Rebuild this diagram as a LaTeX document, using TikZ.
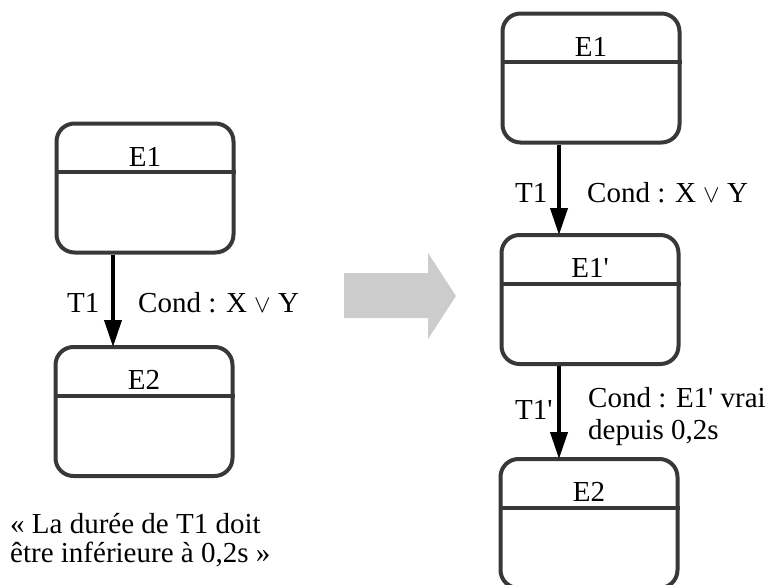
\documentclass[tikz,border=0pt]{standalone}
\usepackage{fontspec}
\setmainfont{Liberation Serif}
\usetikzlibrary{arrows.meta}
\definecolor{boxline}{RGB}{56,56,56}
\definecolor{bigarrow}{RGB}{204,204,204}
\tikzset{
  statebox/.style={draw=boxline, line width=4pt, rounded corners=18pt,
    minimum width=177pt, minimum height=129pt, inner sep=0pt, fill=white},
  divider/.style={draw=boxline, line width=4pt},
  title/.style={anchor=base, inner sep=0pt, font=\fontsize{29}{32}\selectfont},
  lbl/.style={anchor=base west, inner sep=0pt, font=\fontsize{29}{32}\selectfont, align=left},
  trans/.style={line width=4pt, -{Triangle[length=27pt,width=17pt]}, shorten >=-2pt}
}
\newcommand{\prm}{\textquotesingle}
\newcommand{\orsym}{{\fontsize{36}{36}\selectfont$\vee$}}
\begin{document}
\begin{tikzpicture}[x=1pt,y=-1pt]
\useasboundingbox (0,0) rectangle (766,584);
% left column
\node[statebox] (L1) at (145,188) {};
\node[statebox] (L2) at (144,411.5) {};
% right column
\node[statebox] (R1) at (591,78) {};
\node[statebox] (R2) at (590,299.5) {};
\node[statebox] (R3) at (589,523.5) {};
% dividers and titles
\foreach \n/\t in {L1/E1,L2/E2,R1/E1,R2/E1\prm,R3/E2}{
  \draw[divider] ([yshift=16pt]\n.west) -- ([yshift=16pt]\n.east);
  \node[title] at ([yshift=22pt]\n.center) {\t};
}
% transitions
\draw[trans] ([xshift=-32pt]L1.south) -- ([xshift=-31pt]L2.north);
\draw[trans] ([xshift=-32pt]R1.south) -- ([xshift=-31pt]R2.north);
\draw[trans] ([xshift=-31pt]R2.south) -- ([xshift=-30pt]R3.north);
% labels
\node[lbl] (t1) at (67,312) {T1};
\node[lbl] (c1) at (138,312) {Cond : X \orsym{} Y};
\node[lbl] (t2) at (515,202) {T1};
\node[lbl] (c2) at (587,202) {Cond : X \orsym{} Y};
\node[lbl] (t3) at (515,419) {T1\prm};
\node[lbl] (c3) at (588,439) {Cond : E1\prm{} vrai\\depuis 0,2s};
\node[lbl, font=\fontsize{29}{29}\selectfont] (note) at (10,562) {« La durée de T1 doit\\être inférieure à 0,2s »};
% big gray arrow
\fill[bigarrow] (344,273) -- (428,273) -- (428,253) -- (456,296) -- (428,339) -- (428,318) -- (344,318) -- cycle;
\end{tikzpicture}
\end{document}
